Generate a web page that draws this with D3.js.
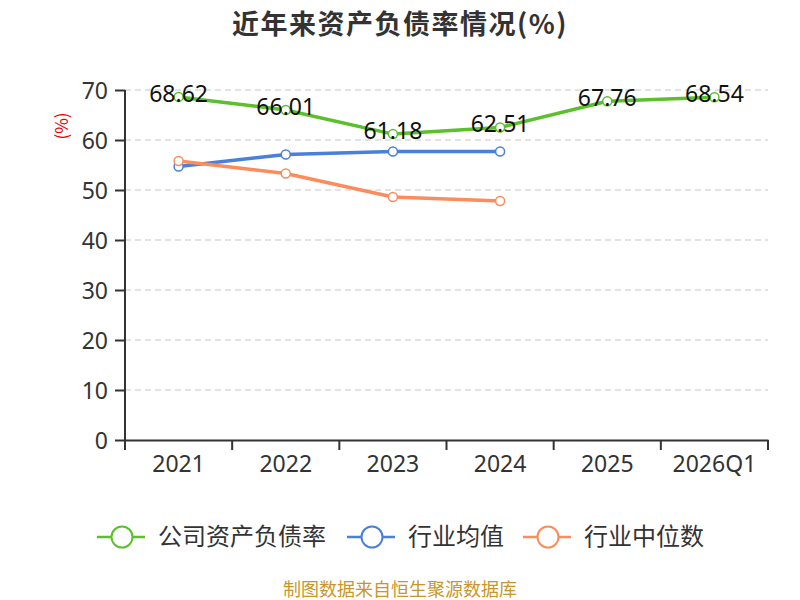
<!DOCTYPE html>
<html><head><meta charset="utf-8">
<script src="https://cdn.jsdelivr.net/npm/d3@7/dist/d3.min.js"></script>
<style>body{margin:0;background:#fff;font-family:"Noto Sans CJK SC","Noto Sans",sans-serif;}</style>
</head><body><svg id="c" width="800" height="600"></svg>
<script>
const categories = ["2021","2022","2023","2024","2025","2026Q1"];
const companyValues = [68.62,66.01,61.18,62.51,67.76,68.54];
const industryAvg = [54.7,57.1,57.7,57.7];
const industryMedian = [55.8,53.3,48.6,47.8];
const yTicks = [0,10,20,30,40,50,60,70];
const seriesNames = ["公司资产负债率","行业均值","行业中位数"];
const colors = ["#5bc02b","#4a7fdc","#fb8c5b"];

(function(){
const svg = d3.select("#c");
const font = '"Noto Sans CJK SC","Noto Sans",sans-serif';
const numFont = '"Noto Sans","Open Sans",sans-serif';
const pL = 125, pR = 768, pT = 90, pB = 440;
const x = d3.scaleBand().domain(categories).range([pL,pR]);
const y = d3.scaleLinear().domain([0,70]).range([pB,pT]);

svg.append("text").attr("x",400).attr("y",34).attr("text-anchor","middle")
  .attr("font-size",27).attr("font-weight","bold").attr("letter-spacing",1.5).attr("fill","#333").attr("font-family",font)
  .text("近年来资产负债率情况(%)");

svg.append("g").selectAll("line").data(yTicks.filter(d=>d>0)).join("line")
  .attr("x1",pL).attr("x2",pR).attr("y1",d=>y(d)).attr("y2",d=>y(d))
  .attr("stroke","#c8c8c8").attr("stroke-width",1.2).attr("stroke-dasharray","6,4");

const ya = svg.append("g").attr("transform",`translate(${pL},0)`)
  .call(d3.axisLeft(y).tickValues(yTicks).tickSize(10).tickPadding(7));
ya.select(".domain").attr("stroke","#333").attr("stroke-width",2).attr("d",`M0,${pB+10}V${pT}`);
ya.selectAll(".tick line").attr("stroke","#333").attr("stroke-width",2);
ya.selectAll("text").attr("font-size",23).attr("fill","#333").attr("font-family",numFont).attr("dy","0.36em");

svg.append("text").attr("transform",`translate(68,126) rotate(-90)`).attr("text-anchor","middle")
  .attr("font-size",17).attr("fill","#e00").attr("font-family",font).text("(%)");

const xa = svg.append("g").attr("transform",`translate(0,${pB})`)
  .call(d3.axisBottom(x).tickSize(0).tickPadding(0));
xa.select(".domain").attr("stroke","#333").attr("stroke-width",2);
xa.selectAll("text").attr("font-size",23).attr("fill","#333").attr("font-family",numFont)
  .attr("y",32).attr("dy",0);
const bounds = categories.map(c=>x(c)).concat([pR]);
svg.append("g").selectAll("line").data(bounds).join("line")
  .attr("x1",d=>d).attr("x2",d=>d).attr("y1",pB).attr("y2",pB+10)
  .attr("stroke","#333").attr("stroke-width",2);

const cx = (i)=>x(categories[i])+x.bandwidth()/2;
const line = d3.line().x((d,i)=>cx(i)).y(d=>y(d));
const series = [companyValues, industryAvg, industryMedian];
[1,2,0].forEach(si=>{
  const g = svg.append("g");
  g.append("path").attr("d",line(series[si])).attr("fill","none")
    .attr("stroke",colors[si]).attr("stroke-width",3.5).attr("stroke-linejoin","round");
  g.selectAll("circle").data(series[si]).join("circle")
    .attr("cx",(d,i)=>cx(i)).attr("cy",d=>y(d)).attr("r",4.5)
    .attr("fill","#fff").attr("stroke",colors[si]).attr("stroke-width",1.5);
});
svg.append("g").selectAll("text").data(companyValues).join("text")
  .attr("x",(d,i)=>cx(i)).attr("y",d=>y(d)+5).attr("text-anchor","middle")
  .attr("font-size",23).attr("fill","#111").attr("font-family",numFont)
  .text(d=>d.toFixed(2));

const legendX = [97,347,523];
seriesNames.forEach((n,i)=>{
  const g = svg.append("g").attr("transform",`translate(${legendX[i]},537)`);
  g.append("line").attr("x1",0).attr("x2",48).attr("stroke",colors[i]).attr("stroke-width",2.5);
  g.append("circle").attr("cx",25).attr("r",10.5).attr("fill","#fff").attr("stroke",colors[i]).attr("stroke-width",2);
  g.append("text").attr("x",61).attr("y",8).attr("font-size",24).attr("fill","#333").attr("font-family",font).text(n);
});

svg.append("text").attr("x",400).attr("y",596).attr("text-anchor","middle")
  .attr("font-size",18).attr("fill","#c8962a").attr("font-family",font).text("制图数据来自恒生聚源数据库");
})();
</script></body></html>
